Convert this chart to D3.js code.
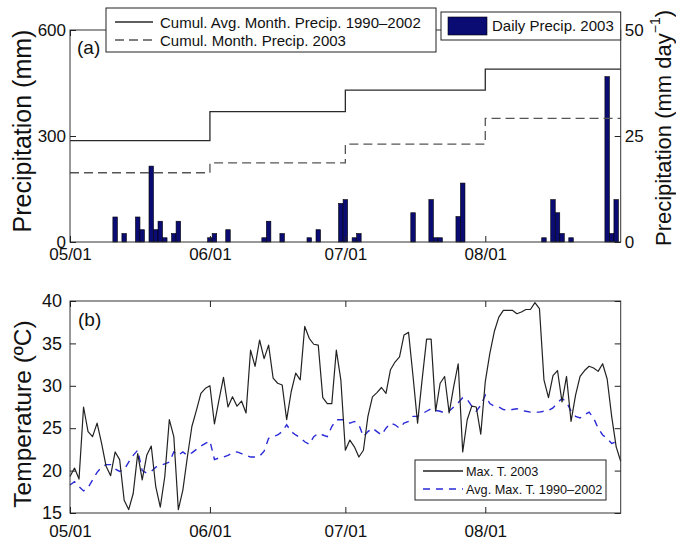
<!DOCTYPE html>
<html>
<head>
<meta charset="utf-8">
<script src="https://cdn.jsdelivr.net/npm/d3@7"></script>
<style>
  body { margin: 0; background: #fff; }
  svg text { font-family: "Liberation Sans", Arial, sans-serif; fill: #111; }
</style>
</head>
<body>
<div id="chart"></div>
<script>
// days counted from 05/01 (day 0) to 08/31 (day 122)
const monthTicks = [0, 31, 61, 92];
const monthLabels = ['05/01', '06/01', '07/01', '08/01'];
const lastDay = 122;

// cumulative monthly precipitation (mm), one value per month start
const cumAvgMonth = [287, 369, 430, 489];
const cumMonth2003 = [196, 224, 277, 350];

// daily precipitation 2003 (mm/day)
const rainDay = [10, 12, 15, 16, 18, 19, 20, 21, 23, 24, 31, 32, 35, 43, 44, 47, 53, 55,
  60, 61, 63, 64, 76, 80, 81, 82, 86, 87, 105, 107, 108, 109, 111, 119, 120, 121];
const rainMm = [5.9, 2.0, 5.9, 2.9, 17.9, 2.9, 4.9, 1.0, 2.0, 4.9, 1.0, 2.0, 2.9, 1.0, 4.9, 2.0, 1.0, 2.9,
  9.1, 10.0, 1.0, 2.0, 6.9, 10.0, 1.0, 1.0, 6.0, 13.9, 1.0, 10.0, 6.9, 2.0, 1.0, 39.0, 2.0, 10.0];

// daily max temperature (deg C)
const maxT2003 = [19.3, 20.3, 19.0, 27.5, 24.6, 24.0, 25.6, 23.2, 20.5, 19.4,
  22.2, 21.3, 16.5, 15.4, 17.3, 22.0, 18.9, 21.8, 22.9, 18.1,
  15.7, 19.3, 26.0, 24.0, 15.4, 17.7, 21.6, 25.2, 27.1, 29.1,
  29.7, 30.0, 25.5, 28.3, 31.0, 27.5, 28.7, 27.6, 28.2, 26.8,
  34.2, 32.3, 35.4, 33.2, 34.8, 30.9, 30.3, 30.1, 26.0, 29.3,
  31.5, 30.7, 37.0, 35.6, 34.9, 34.8, 28.6, 27.9, 27.9, 34.2,
  30.7, 22.4, 23.6, 22.8, 21.6, 22.4, 26.4, 28.7, 29.2, 29.8,
  29.1, 31.9, 32.8, 33.4, 36.0, 36.3, 31.1, 25.6, 30.7, 35.5,
  35.5, 27.0, 30.3, 31.1, 26.8, 29.9, 32.6, 22.2, 26.0, 27.6,
  27.5, 24.3, 30.5, 33.8, 36.4, 38.1, 38.9, 38.9, 38.9, 38.5,
  38.7, 39.0, 39.0, 39.8, 39.1, 30.7, 28.6, 31.2, 31.8, 28.1,
  31.1, 25.8, 28.9, 31.1, 31.8, 32.3, 32.1, 31.7, 32.6, 30.8,
  26.4, 22.8, 21.1];
const avgMaxT = [18.3, 18.7, 18.1, 17.6, 18.0, 18.9, 19.8, 20.4, 20.7, 20.7,
  20.2, 19.9, 20.1, 21.0, 21.8, 22.4, 20.0, 19.7, 19.9, 20.4,
  20.6, 20.8, 21.0, 22.2, 21.8, 22.2, 21.8, 22.1, 22.5, 22.9,
  23.2, 23.5, 21.3, 21.5, 21.6, 21.8, 22.1, 22.2, 22.0, 21.8,
  21.6, 21.6, 21.7, 22.3, 23.8, 24.0, 24.2, 24.6, 25.4, 24.6,
  24.2, 23.9, 23.4, 23.1, 24.0, 24.4, 24.2, 24.0, 25.2, 26.0,
  26.0, 26.0, 25.6, 25.8, 25.4, 24.0, 24.6, 25.0, 24.6, 24.2,
  25.0, 25.6, 25.4, 25.0, 25.6, 25.8, 26.4, 26.4, 26.7, 27.0,
  27.3, 27.1, 27.0, 26.8, 27.0, 27.5, 28.0, 28.6, 28.4, 27.6,
  27.0, 27.7, 28.9, 27.9, 27.6, 27.5, 27.2, 27.1, 27.2, 27.3,
  27.1, 27.0, 26.9, 26.9, 26.9, 27.0, 27.1, 27.4, 28.0, 28.5,
  28.1, 27.0, 26.4, 26.2, 26.6, 26.9, 26.2, 25.0, 24.2, 23.8,
  23.2, 23.4, 23.6];

const mmTicks = [0, 300, 600];
const dayTicks = [0, 25, 50];
const tempTicks = [15, 20, 25, 30, 35, 40];

const width = 676, height = 540;
const plotLeft = 70, plotRight = 620.7;
const topPanel = { top: 30, bottom: 242 };
const botPanel = { top: 301, bottom: 513 };
const barColor = '#0b0b74';
const blueColor = '#2a2ad6';

const svg = d3.select('#chart').append('svg')
  .attr('width', width)
  .attr('height', height);

const x = d3.scaleLinear().domain([0, lastDay]).range([plotLeft, plotRight]);

function stepPoints(values) {
  const pts = values.map((v, i) => [monthTicks[i], v]);
  pts.push([lastDay, values[values.length - 1]]);
  return pts;
}

function styleAxis(g, size) {
  g.select('.domain').remove();
  g.selectAll('.tick line').attr('stroke', '#222');
  g.selectAll('.tick text').style('font-size', size + 'px').attr('fill', '#111');
}

// ---------- panel (a) ----------
const yMm = d3.scaleLinear().domain([0, 600]).range([topPanel.bottom, topPanel.top]);
const yDay = d3.scaleLinear().domain([0, 50]).range([topPanel.bottom, topPanel.top]);
const gA = svg.append('g');

const bw = x(1) - x(0);
gA.selectAll('.bar')
  .data(rainDay.map((d, i) => ({ day: d, mm: rainMm[i] })))
  .enter()
  .append('rect')
  .attr('class', 'bar')
  .attr('x', d => x(d.day) - bw / 2)
  .attr('width', bw)
  .attr('y', d => yDay(d.mm))
  .attr('height', d => yDay(0) - yDay(d.mm))
  .attr('fill', barColor)
  .attr('stroke', '#000')
  .attr('stroke-width', 0.6);

const stepLine = d3.line()
  .x(d => x(d[0]))
  .y(d => yMm(d[1]))
  .curve(d3.curveStepAfter);

gA.append('path')
  .attr('d', stepLine(stepPoints(cumAvgMonth)))
  .attr('fill', 'none')
  .attr('stroke', '#2a2a2a')
  .attr('stroke-width', 1.3);

gA.append('path')
  .attr('d', stepLine(stepPoints(cumMonth2003)))
  .attr('fill', 'none')
  .attr('stroke', '#555')
  .attr('stroke-width', 1.3)
  .attr('stroke-dasharray', '9,5');

gA.append('rect')
  .attr('x', plotLeft).attr('y', topPanel.top)
  .attr('width', plotRight - plotLeft).attr('height', topPanel.bottom - topPanel.top)
  .attr('fill', 'none').attr('stroke', '#333').attr('stroke-width', 1);

gA.append('g')
  .attr('transform', `translate(${plotLeft},0)`)
  .call(d3.axisLeft(yMm).tickValues(mmTicks).tickSizeInner(-6).tickSizeOuter(0).tickPadding(4))
  .call(g => styleAxis(g, 17));

gA.append('g')
  .attr('transform', `translate(${plotRight},0)`)
  .call(d3.axisRight(yDay).tickValues(dayTicks).tickSizeInner(-6).tickSizeOuter(0).tickPadding(4))
  .call(g => styleAxis(g, 17));

gA.append('g')
  .attr('transform', `translate(0,${topPanel.bottom})`)
  .call(d3.axisBottom(x).tickValues(monthTicks).tickFormat((d, i) => monthLabels[i])
    .tickSizeInner(-6).tickSizeOuter(0).tickPadding(6))
  .call(g => styleAxis(g, 17));

gA.append('g')
  .attr('transform', `translate(0,${topPanel.top})`)
  .call(d3.axisTop(x).tickValues(monthTicks).tickFormat('').tickSizeInner(-6).tickSizeOuter(0))
  .call(g => styleAxis(g, 17));

gA.append('text')
  .attr('x', 77).attr('y', 54)
  .style('font-size', '19px')
  .text('(a)');

gA.append('text')
  .attr('transform', 'translate(22,131) rotate(-90)')
  .attr('text-anchor', 'middle')
  .attr('dominant-baseline', 'central')
  .style('font-size', '25px')
  .text('Precipitation (mm)');

const rTitle = gA.append('text')
  .attr('transform', 'translate(663,128) rotate(-90)')
  .attr('text-anchor', 'middle')
  .attr('dominant-baseline', 'central')
  .style('font-size', '22px');
rTitle.append('tspan').text('Precipitation (mm day');
rTitle.append('tspan').attr('dy', -8).style('font-size', '14px').text('\u22121');
rTitle.append('tspan').attr('dy', 8).text(')');

// legends (a)
const legA = gA.append('g');
legA.append('rect')
  .attr('x', 106).attr('y', 8).attr('width', 330).attr('height', 44)
  .attr('fill', '#fff').attr('stroke', '#222');
[
  { label: 'Cumul. Avg. Month. Precip. 1990\u20132002', dash: null, color: '#2a2a2a', y: 22 },
  { label: 'Cumul. Month. Precip. 2003', dash: '9,5', color: '#555', y: 40 }
].forEach(item => {
  legA.append('line')
    .attr('x1', 115).attr('x2', 153).attr('y1', item.y).attr('y2', item.y)
    .attr('stroke', item.color).attr('stroke-width', 1.3)
    .attr('stroke-dasharray', item.dash);
  legA.append('text')
    .attr('x', 160).attr('y', item.y + 5.5)
    .style('font-size', '15px')
    .text(item.label);
});

legA.append('rect')
  .attr('x', 441).attr('y', 12).attr('width', plotRight - 441).attr('height', 28)
  .attr('fill', '#fff').attr('stroke', '#222');
legA.append('rect')
  .attr('x', 448).attr('y', 17).attr('width', 39).attr('height', 18)
  .attr('fill', barColor).attr('stroke', '#000').attr('stroke-width', 0.6);
legA.append('text')
  .attr('x', 492).attr('y', 30.5)
  .style('font-size', '15px')
  .text('Daily Precip. 2003');

// ---------- panel (b) ----------
const yT = d3.scaleLinear().domain([15, 40]).range([botPanel.bottom, botPanel.top]);
const gB = svg.append('g');

const tLine = d3.line()
  .x((d, i) => x(i))
  .y(d => yT(d));

gB.append('path')
  .attr('d', tLine(avgMaxT))
  .attr('fill', 'none')
  .attr('stroke', blueColor)
  .attr('stroke-width', 1.4)
  .attr('stroke-dasharray', '7,6');

gB.append('path')
  .attr('d', tLine(maxT2003))
  .attr('fill', 'none')
  .attr('stroke', '#222')
  .attr('stroke-width', 1.2)
  .attr('stroke-linejoin', 'round');

gB.append('rect')
  .attr('x', plotLeft).attr('y', botPanel.top)
  .attr('width', plotRight - plotLeft).attr('height', botPanel.bottom - botPanel.top)
  .attr('fill', 'none').attr('stroke', '#333').attr('stroke-width', 1);

gB.append('g')
  .attr('transform', `translate(${plotLeft},0)`)
  .call(d3.axisLeft(yT).tickValues(tempTicks).tickSizeInner(-6).tickSizeOuter(0).tickPadding(8))
  .call(g => styleAxis(g, 18));

gB.append('g')
  .attr('transform', `translate(${plotRight},0)`)
  .call(d3.axisRight(yT).tickValues(tempTicks).tickFormat('').tickSizeInner(-6).tickSizeOuter(0))
  .call(g => styleAxis(g, 18));

gB.append('g')
  .attr('transform', `translate(0,${botPanel.bottom})`)
  .call(d3.axisBottom(x).tickValues(monthTicks).tickFormat((d, i) => monthLabels[i])
    .tickSizeInner(-6).tickSizeOuter(0).tickPadding(12))
  .call(g => styleAxis(g, 17));

gB.append('g')
  .attr('transform', `translate(0,${botPanel.top})`)
  .call(d3.axisTop(x).tickValues(monthTicks).tickFormat('').tickSizeInner(-6).tickSizeOuter(0))
  .call(g => styleAxis(g, 17));

gB.append('text')
  .attr('x', 78).attr('y', 326)
  .style('font-size', '19px')
  .text('(b)');

gB.append('text')
  .attr('transform', 'translate(22,414) rotate(-90)')
  .attr('text-anchor', 'middle')
  .attr('dominant-baseline', 'central')
  .style('font-size', '24.5px')
  .text('Temperature (\u00baC)');

// legend (b)
const legB = gB.append('g');
legB.append('rect')
  .attr('x', 415).attr('y', 460).attr('width', 191).attr('height', 40)
  .attr('fill', '#fff').attr('stroke', '#222');
[
  { label: 'Max. T. 2003', dash: null, color: '#222', y: 471 },
  { label: 'Avg. Max. T. 1990\u20132002', dash: '7,6', color: blueColor, y: 489 }
].forEach(item => {
  legB.append('line')
    .attr('x1', 423).attr('x2', 463).attr('y1', item.y).attr('y2', item.y)
    .attr('stroke', item.color).attr('stroke-width', 1.3)
    .attr('stroke-dasharray', item.dash);
  legB.append('text')
    .attr('x', 466).attr('y', item.y + 4.5)
    .style('font-size', '12.7px')
    .text(item.label);
});
</script>
</body>
</html>
